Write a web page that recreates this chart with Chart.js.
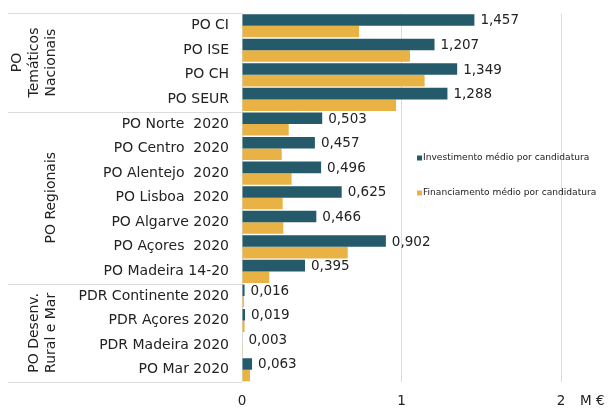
<!DOCTYPE html>
<html>
<head>
<meta charset="utf-8">
<script src="https://cdn.jsdelivr.net/npm/chart.js@4/dist/chart.umd.min.js"></script>
<style>
  body { margin: 0; background: #fff; }
  canvas { display: block; }
</style>
</head>
<body>
<canvas id="chart" width="608" height="408"></canvas>
<script>
const categories = [
    "PO CI", "PO ISE", "PO CH", "PO SEUR",
    "PO Norte  2020", "PO Centro  2020", "PO Alentejo  2020", "PO Lisboa  2020",
    "PO Algarve 2020", "PO Açores  2020", "PO Madeira 14-20",
    "PDR Continente 2020", "PDR Açores 2020", "PDR Madeira 2020", "PO Mar 2020"
];
const investimento = [1.457, 1.207, 1.349, 1.288, 0.503, 0.457, 0.496, 0.625, 0.466, 0.902, 0.395, 0.016, 0.019, 0.003, 0.063];
const financiamento = [0.734, 1.053, 1.145, 0.966, 0.293, 0.249, 0.311, 0.255, 0.259, 0.663, 0.171, 0.012, 0.016, 0.002, 0.050];
const seriesNames = ["Investimento médio por candidatura", "Financiamento médio por candidatura"];
const groups = [
    { lines: ["PO", "Temáticos", "Nacionais"], from: 0, to: 3 },
    { lines: ["PO Regionais"], from: 4, to: 10 },
    { lines: ["PO Desenv.", "Rural e Mar"], from: 11, to: 14 }
];
const xTicks = [0, 1, 2];
const unitLabel = "M €";

const TEAL = "#245a69";
const YELLOW = "#e9b244";
const FONT = "'DejaVu Sans', Verdana, sans-serif";

function fmt(v) {
    return v.toFixed(3).replace(".", ",");
}

const extras = {
    id: "extras",
    afterDatasetsDraw(chart) {
        const ctx = chart.ctx;
        const y = chart.scales.y;
        const area = chart.chartArea;

        // value labels on the first series
        const meta = chart.getDatasetMeta(0);
        ctx.save();
        ctx.font = "13.5px " + FONT;
        ctx.fillStyle = "#222";
        ctx.textBaseline = "middle";
        ctx.textAlign = "left";
        meta.data.forEach((bar, i) => {
            ctx.fillText(fmt(investimento[i]), bar.x + 6, bar.y + 1);
        });

        // group separators and labels
        const step = (y.getPixelForValue(1) - y.getPixelForValue(0));
        ctx.strokeStyle = "#dcdcdc";
        ctx.lineWidth = 1;
        const edges = new Set();
        groups.forEach(g => {
            edges.add(Math.round(y.getPixelForValue(g.from) - step / 2) + 0.5);
            edges.add(Math.round(y.getPixelForValue(g.to) + step / 2) + 0.5);
        });
        edges.forEach(py => {
            ctx.beginPath();
            ctx.moveTo(8, py);
            ctx.lineTo(area.left, py);
            ctx.stroke();
        });

        ctx.fillStyle = "#222";
        ctx.font = "14px " + FONT;
        ctx.textAlign = "center";
        groups.forEach(g => {
            const cy = (y.getPixelForValue(g.from) + y.getPixelForValue(g.to)) / 2;
            const n = g.lines.length;
            g.lines.forEach((line, k) => {
                const cx = 51 - (n - 1 - k) * 17;
                ctx.save();
                ctx.translate(cx, cy);
                ctx.rotate(-Math.PI / 2);
                ctx.fillText(line, 0, 0);
                ctx.restore();
            });
        });

        // unit label
        ctx.font = "13.5px " + FONT;
        ctx.textAlign = "left";
        ctx.fillText(unitLabel, 580, 401);

        // legend
        ctx.font = "9.1px " + FONT;
        [[TEAL, 158], [YELLOW, 193]].forEach(([c, ly], i) => {
            ctx.fillStyle = c;
            ctx.fillRect(417, ly - 2.5, 5, 5);
            ctx.fillStyle = "#222";
            ctx.fillText(seriesNames[i], 423, ly);
        });
        ctx.restore();
    }
};

new Chart(
    document.getElementById("chart"),
    {
        type: "bar",
        data: {
            labels: categories,
            datasets: [
                { label: seriesNames[0], data: investimento, backgroundColor: TEAL },
                { label: seriesNames[1], data: financiamento, backgroundColor: YELLOW }
            ]
        },
        options: {
            indexAxis: "y",
            responsive: false,
            animation: false,
            categoryPercentage: 0.94,
            barPercentage: 1,
            layout: { padding: { top: 4, right: 47, left: 0, bottom: 0 } },
            plugins: {
                legend: { display: false },
                tooltip: { enabled: false }
            },
            scales: {
                x: {
                    min: 0,
                    max: 2,
                    afterBuildTicks(scale) {
                        scale.ticks = xTicks.map(v => ({ value: v }));
                    },
                    afterFit(scale) { scale.height = 26; },
                    border: { display: false },
                    grid: { color: "#dcdcdc", drawTicks: false },
                    ticks: {
                        padding: 11,
                        color: "#222",
                        font: { family: FONT, size: 13.5 }
                    }
                },
                y: {
                    afterFit(scale) { scale.width = 242; },
                    border: { display: false },
                    grid: { display: false },
                    ticks: {
                        padding: 5,
                        color: "#222",
                        autoSkip: false,
                        font: { family: FONT, size: 14 }
                    }
                }
            }
        },
        plugins: [extras]
    }
);
</script>
</body>
</html>
